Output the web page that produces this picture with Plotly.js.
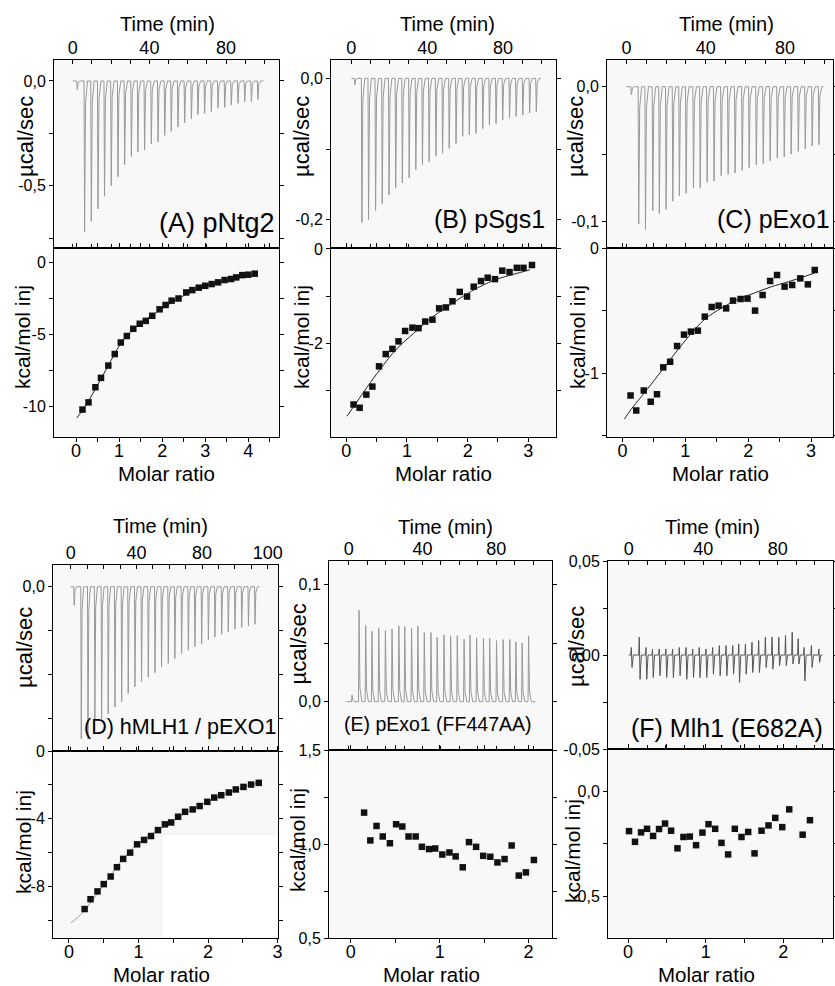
<!DOCTYPE html>
<html><head><meta charset="utf-8">
<script src="https://cdn.plot.ly/plotly-3.0.1.min.js"></script>
<style>html,body{margin:0;padding:0;background:#fff;}#chart{width:835px;height:986px;}</style>
</head><body><div id="chart"></div>
<script>
// ---------------- DATA ----------------
// Raw thermograms: injection times (min) and peak heights (µcal/sec)
const timeA = [2.1,5.9,9.4,12.9,16.3,19.8,23.3,26.8,30.3,33.7,37.2,40.7,44.2,47.7,51.1,54.6,58.1,61.6,65.0,68.5,72.0,75.5,79.0,82.4,85.9,89.4,92.9,96.3];
const peakA = [-0.043,-0.72,-0.67,-0.61,-0.55,-0.5,-0.457,-0.40,-0.36,-0.34,-0.33,-0.30,-0.29,-0.26,-0.24,-0.22,-0.20,-0.18,-0.16,-0.155,-0.146,-0.13,-0.126,-0.115,-0.107,-0.099,-0.099,-0.088];
const baseA = [0, 99.5];

const timeB = [1.6,5.3,8.8,12.5,16.0,19.6,23.1,26.6,30.2,33.7,37.2,40.7,44.3,47.8,51.3,54.9,58.4,61.9,65.4,69.0,72.5,76.0,79.5,83.1,86.6,90.1,93.7,97.2];
const peakB = [-0.009,-0.204,-0.2,-0.187,-0.177,-0.165,-0.155,-0.148,-0.141,-0.129,-0.122,-0.118,-0.11,-0.106,-0.099,-0.092,-0.082,-0.08,-0.078,-0.071,-0.066,-0.064,-0.059,-0.056,-0.054,-0.052,-0.049,-0.047];
const baseB = [0, 100];

const timeC = [2.2,5.9,9.3,13.0,16.3,19.7,23.1,26.4,29.8,33.5,36.9,40.4,43.9,47.5,51.0,54.5,58.1,61.6,65.2,68.7,72.2,75.8,79.3,82.8,86.4,89.9,93.4,96.8];
const peakC = [-0.006,-0.102,-0.106,-0.092,-0.094,-0.091,-0.085,-0.081,-0.079,-0.075,-0.075,-0.071,-0.07,-0.066,-0.065,-0.064,-0.062,-0.06,-0.058,-0.057,-0.055,-0.053,-0.052,-0.05,-0.048,-0.046,-0.044,-0.043];
const baseC = [0, 99.3];

const timeD = [1.8,6.1,10.2,14.4,18.5,22.5,26.6,30.7,34.7,38.8,42.8,46.9,51.0,55.0,59.1,63.1,67.2,71.3,75.3,79.4,83.5,87.5,91.6,95.6,99.7,103.8,107.9,111.9];
const peakD = [-0.042,-0.345,-0.345,-0.303,-0.3,-0.288,-0.273,-0.261,-0.242,-0.227,-0.216,-0.205,-0.195,-0.182,-0.174,-0.163,-0.152,-0.144,-0.136,-0.129,-0.12,-0.114,-0.108,-0.102,-0.096,-0.092,-0.089,-0.085];
const baseD = [0, 115];

const timeE = [1.5,5.3,8.9,12.3,16.0,19.6,23.2,26.9,30.1,33.8,37.2,40.7,44.3,47.7,51.4,55.0,58.6,62.3,65.5,69.1,72.8,76.2,79.9,83.5,87.1,90.4,93.8,97.3];
const peakE = [0.0057,0.078,0.065,0.06,0.063,0.0605,0.062,0.0645,0.064,0.0625,0.0645,0.0588,0.059,0.0548,0.0568,0.0562,0.0562,0.0534,0.0568,0.0545,0.054,0.054,0.052,0.053,0.053,0.051,0.050,0.056];
const baseE = [-1.3, 101.3];

const timeF = [1.1,5.4,9.0,12.5,16.1,19.7,23.3,26.9,30.5,34.1,37.6,41.2,44.8,48.4,52.0,55.6,58.8,62.4,65.9,69.5,73.1,76.7,80.3,83.9,87.5,90.7,93.9,97.8,101.8];
const upF   = [0.004,0.0095,0.004,0.0032,0.0032,0.0032,0.0032,0.004,0.004,0.0032,0.004,0.0032,0.004,0.005,0.005,0.005,0.0059,0.0059,0.0068,0.0077,0.0095,0.0095,0.0095,0.0104,0.0121,0.0086,0.004,0.005,0.0032];
const downF = [-0.0066,-0.0129,-0.0129,-0.012,-0.011,-0.012,-0.012,-0.011,-0.0129,-0.012,-0.012,-0.012,-0.0102,-0.011,-0.011,-0.0102,-0.0146,-0.0102,-0.0093,-0.0093,-0.0066,-0.0075,-0.0057,-0.0057,-0.0048,-0.0048,-0.0138,-0.0066,-0.0039];
const baseF = [0, 104];

// Integrated heats (kcal/mol of injectant) vs molar ratio
const ratioA = [0.15,0.29,0.45,0.58,0.75,0.90,1.04,1.18,1.33,1.48,1.62,1.77,1.94,2.08,2.22,2.38,2.56,2.70,2.85,3.00,3.15,3.30,3.45,3.60,3.72,3.86,4.00,4.15];
const heatA  = [-10.2,-9.7,-8.65,-8.0,-7.15,-6.35,-5.55,-5.1,-4.6,-4.25,-4.05,-3.7,-3.25,-2.95,-2.65,-2.5,-2.08,-1.92,-1.75,-1.62,-1.5,-1.38,-1.22,-1.15,-1.04,-0.88,-0.85,-0.78];
const fitXA = [0.02,0.25,0.5,0.75,1.0,1.25,1.5,1.75,2.0,2.5,3.0,3.5,4.0,4.2];
const fitYA = [-10.78,-9.8,-8.5,-7.15,-5.8,-4.85,-4.2,-3.7,-3.2,-2.3,-1.65,-1.25,-0.95,-0.85];

const ratioB = [0.12,0.22,0.33,0.43,0.54,0.65,0.76,0.86,0.97,1.09,1.19,1.30,1.42,1.53,1.64,1.75,1.87,1.99,2.10,2.22,2.33,2.45,2.57,2.69,2.81,2.92,3.06];
const heatB  = [-3.3,-3.37,-3.09,-2.92,-2.49,-2.23,-2.12,-1.96,-1.74,-1.67,-1.68,-1.54,-1.5,-1.26,-1.24,-1.11,-0.91,-1.01,-0.8,-0.68,-0.61,-0.64,-0.46,-0.49,-0.4,-0.4,-0.34];
const fitXB = [0.01,0.34,0.56,0.83,1.11,1.38,1.66,1.93,2.2,2.48,2.75,3.03];
const fitYB = [-3.55,-2.94,-2.55,-2.12,-1.79,-1.48,-1.23,-1.0,-0.8,-0.64,-0.54,-0.44];

const ratioC = [0.13,0.22,0.34,0.45,0.55,0.65,0.76,0.87,0.98,1.09,1.20,1.31,1.42,1.53,1.65,1.76,1.88,1.99,2.11,2.23,2.35,2.46,2.58,2.70,2.83,2.95,3.06];
const heatC  = [-1.18,-1.30,-1.14,-1.23,-1.17,-0.955,-0.91,-0.784,-0.693,-0.669,-0.661,-0.549,-0.472,-0.461,-0.483,-0.421,-0.408,-0.405,-0.501,-0.376,-0.264,-0.216,-0.309,-0.296,-0.243,-0.291,-0.176];
const fitXC = [0.03,0.14,0.3,0.52,0.78,1.05,1.31,1.58,1.84,2.1,2.37,2.64,3.06];
const fitYC = [-1.37,-1.29,-1.19,-1.05,-0.88,-0.71,-0.57,-0.48,-0.41,-0.36,-0.31,-0.27,-0.2];

const ratioD = [0.225,0.31,0.41,0.50,0.60,0.69,0.78,0.88,0.98,1.08,1.18,1.28,1.38,1.47,1.57,1.67,1.78,1.88,1.99,2.09,2.19,2.30,2.40,2.51,2.62,2.73];
const heatD  = [-9.33,-8.75,-8.29,-7.86,-7.41,-6.86,-6.37,-6.0,-5.51,-5.25,-5.02,-4.67,-4.33,-4.22,-3.88,-3.59,-3.45,-3.25,-3.0,-2.75,-2.61,-2.45,-2.27,-2.12,-1.98,-1.88];
const fitXD = [0.03,0.12,0.225,0.5,0.75,1.0,1.25,1.5,1.75,2.0,2.25,2.5,2.73];
const fitYD = [-10.13,-9.85,-9.4,-7.9,-6.5,-5.45,-4.75,-4.1,-3.5,-2.97,-2.55,-2.14,-1.88];

const ratioE = [0.15,0.22,0.29,0.36,0.44,0.51,0.58,0.65,0.73,0.80,0.88,0.95,1.03,1.11,1.18,1.26,1.33,1.41,1.49,1.57,1.65,1.73,1.81,1.89,1.97,2.06];
const heatE  = [1.167,1.019,1.096,1.04,1.004,1.105,1.093,1.04,1.04,0.985,0.973,0.976,0.944,0.955,0.934,0.876,1.01,0.985,0.937,0.932,0.902,0.92,0.992,0.832,0.849,0.915];

const ratioF = [0.013,0.09,0.168,0.245,0.323,0.40,0.477,0.555,0.637,0.714,0.796,0.877,0.959,1.037,1.123,1.204,1.29,1.376,1.462,1.548,1.63,1.72,1.81,1.897,1.987,2.077,2.25,2.344];
const heatF  = [-0.191,-0.242,-0.197,-0.18,-0.214,-0.181,-0.155,-0.189,-0.273,-0.219,-0.217,-0.258,-0.198,-0.158,-0.18,-0.247,-0.302,-0.18,-0.219,-0.195,-0.297,-0.189,-0.164,-0.128,-0.172,-0.0875,-0.208,-0.139];

// Tick values / labels
const timeTicksStd = [0,10,20,30,40,50,60,70,80,90,100,110];
const timeTextStd  = ['0','','','','40','','','','80','','',''];
const timeTicksD   = [0,10,20,30,40,50,60,70,80,90,100,110,120];
const timeTextD    = ['0','','','','40','','','','80','','','','100'];
const molarTicks   = [0,0.5,1,1.5,2,2.5,3,3.5,4,4.5];
const molarText    = ['0','','1','','2','','3','','4',''];

const rawTickA = [0,-0.25,-0.5,-0.75],  rawTextA = ['0,0','','-0,5',''];
const rawTickB = [0,-0.1,-0.2],         rawTextB = ['0,0','','-0,2'];
const rawTickC = [0,-0.05,-0.1],        rawTextC = ['0,0','','-0,1'];
const rawTickD = [0,-0.1,-0.2,-0.3],    rawTextD = ['0,0','','',''];
const rawTickE = [0,0.05,0.1],          rawTextE = ['0,0','','0,1'];
const rawTickF = [0.05,0.025,0,-0.025,-0.05], rawTextF = ['0,05','','0,00','','-0,05'];

const heatTickA = [0,-2.5,-5,-7.5,-10], heatTextA = ['0','','-5','','-10'];
const heatTickB = [0,-1,-2,-3,-4],      heatTextB = ['0','','-2','','-4'];
const heatTickC = [0,-0.5,-1,-1.5],     heatTextC = ['0','','-1',''];
const heatTickD = [0,-2,-4,-6,-8,-10],  heatTextD = ['0','','-4','','-8',''];
const heatTickE = [1.5,1.25,1.0,0.75,0.5], heatTextE = ['1,5','','1,0','','0,5'];
const heatTickF = [0,-0.25,-0.5],       heatTextF = ['0,0','','-0,5'];

const panelLabels = ['(A) pNtg2','(B) pSgs1','(C) pExo1','(D) hMLH1 / pEXO1','(E) pExo1 (FF447AA)','(F) Mlh1 (E682A)'];

// ---------------- LAYOUT / STYLE ----------------
const W = 835, H = 986;
const FONT = '"Liberation Sans", Arial, Helvetica, sans-serif';

function thermo(times, peaks, base) {
  const x = [base[0]], y = [0];
  for (let i = 0; i < times.length; i++) {
    const t = times[i], p = peaks[i];
    x.push(t, t + 0.3, t + 0.8, t + 1.8);
    y.push(0, p, p * 0.15, 0);
  }
  x.push(base[1]); y.push(0);
  return {x, y};
}
function thermoF(times, ups, downs, base) {
  const x = [base[0]], y = [0];
  for (let i = 0; i < times.length; i++) {
    const t = times[i];
    x.push(t, t + 0.3, t + 0.7, t + 1.4);
    y.push(0, ups[i], downs[i], 0);
  }
  x.push(base[1]); y.push(0);
  return {x, y};
}

const panels = [
  {box:[54,279,60,248,437], tr:[-9.75,107.6], yr:[-0.797,0.1], mr:[-0.511,4.713], hr:[-12.1,1.0],
   raw:thermo(timeA,peakA,baseA), tt:[timeTicksStd,timeTextStd], rt:[rawTickA,rawTextA], ht:[heatTickA,heatTextA],
   pts:[ratioA,heatA], fit:[fitXA,fitYA], fitColor:'#222',
   tTitle:[167.5,24], uTitle:[26,137], kTitle:[23,337], mTitle:[166.5,473], lab:[277,223,27]},
  {box:[331,556,60,248,437], tr:[-10.7,107.9], yr:[-0.240,0.026], mr:[-0.252,3.456], hr:[-3.99,0.021],
   raw:thermo(timeB,peakB,baseB), tt:[timeTicksStd,timeTextStd], rt:[rawTickB,rawTextB], ht:[heatTickB,heatTextB],
   pts:[ratioB,heatB], fit:[fitXB,fitYB], fitColor:'#222',
   tTitle:[447.5,24], uTitle:[302,137], kTitle:[302,337], mTitle:[443,473], lab:[547,219,25]},
  {box:[607,833,60,248,437], tr:[-9.8,104.2], yr:[-0.1197,0.0198], mr:[-0.245,3.35], hr:[-1.512,0],
   raw:thermo(timeC,peakC,baseC), tt:[timeTicksStd,timeTextStd], rt:[rawTickC,rawTextC], ht:[heatTickC,heatTextC],
   pts:[ratioC,heatC], fit:[fitXC,fitYC], fitColor:'#222',
   tTitle:[726.5,24], uTitle:[576,137], kTitle:[578,337], mTitle:[720,473], lab:[832,219,25]},
  {box:[53,278,565,751,938], tr:[-10.8,126.2], yr:[-0.3727,0.0493], mr:[-0.23,3.007], hr:[-11.04,0],
   raw:thermo(timeD,peakD,baseD), tt:[timeTicksD,timeTextD], rt:[rawTickD,rawTextD], ht:[heatTickD,heatTextD],
   pts:[ratioD,heatD], fit:[fitXD,fitYD], fitColor:'#999',
   tTitle:[160,526], uTitle:[24,648], kTitle:[23,842], mTitle:[161,974], lab:[278,727,21.5]},
  {box:[329,552,561,750,938], tr:[-10.7,110.3], yr:[-0.0412,0.1199], mr:[-0.245,2.264], hr:[0.5,1.5],
   raw:thermo(timeE,peakE,baseE), tt:[timeTicksStd,timeTextStd], rt:[rawTickE,rawTextE], ht:[heatTickE,heatTextE],
   pts:[ratioE,heatE], fit:null,
   tTitle:[445,527], uTitle:[297.5,644], kTitle:[297,840], mTitle:[431,974], lab:[533,724,19.5]},
  {box:[608,833,561,749,938], tr:[-11.1,109.7], yr:[-0.05,0.05], mr:[-0.258,2.641], hr:[-0.7,0.2],
   raw:thermoF(timeF,upF,downF,baseF), rawColor:'#555', tt:[timeTicksStd,timeTextStd], rt:[rawTickF,rawTextF], ht:[heatTickF,heatTextF],
   pts:[ratioF,heatF], fit:null,
   tTitle:[712.5,527], uTitle:[576,647], kTitle:[572,851], mTitle:[706,974], lab:[825,728,25]}
];

const traces = [];
const layout = {
  width: W, height: H, margin:{l:0,r:0,t:0,b:0,pad:0},
  paper_bgcolor:'#ffffff', plot_bgcolor:'#f8f8f8', showlegend:false,
  font:{family:FONT, color:'#000'}, annotations:[], shapes:[]
};
const baseAxis = {showline:true, linecolor:'#000', linewidth:1, mirror:'ticks', showgrid:false,
  zeroline:false, ticklen:4, tickwidth:1, tickcolor:'#000', fixedrange:true, tickmode:'array', layer:'above traces'};

function px2x(p){ return p / W; }
function px2y(p){ return 1 - p / H; }

panels.forEach((p, i) => {
  const nT = 2*i + 1, nB = 2*i + 2;
  const xT = 'x' + (nT === 1 ? '' : nT), yT = 'y' + (nT === 1 ? '' : nT);
  const xB = 'x' + nB, yB = 'y' + nB;
  const [L, R, T, M, B] = p.box;
  const xdom = [px2x(L), px2x(R)];
  layout['xaxis' + (nT === 1 ? '' : nT)] = Object.assign({}, baseAxis, {
    domain: xdom, anchor: yT, side:'top', ticks:'inside', range: p.tr, ticklabelstandoff:-2,
    tickvals: p.tt[0], ticktext: p.tt[1], tickfont:{family:FONT, size:18, color:'#000'}
  });
  layout['yaxis' + (nT === 1 ? '' : nT)] = Object.assign({}, baseAxis, {
    domain: [px2y(M), px2y(T)], anchor: xT, ticks:'outside', range: p.yr,
    tickvals: p.rt[0], ticktext: p.rt[1], tickfont:{family:FONT, size:16, color:'#000'}
  });
  layout['xaxis' + nB] = Object.assign({}, baseAxis, {
    domain: xdom, anchor: yB, side:'bottom', ticks:'outside', range: p.mr, ticklabelstandoff:-7,
    tickvals: molarTicks, ticktext: molarText, tickfont:{family:FONT, size:18, color:'#000'}
  });
  layout['yaxis' + nB] = Object.assign({}, baseAxis, {
    domain: [px2y(B), px2y(M)], anchor: xB, ticks:'outside', range: p.hr,
    tickvals: p.ht[0], ticktext: p.ht[1], tickfont:{family:FONT, size:16, color:'#000'}
  });

  traces.push({type:'scatter', mode:'lines', x:p.raw.x, y:p.raw.y, xaxis:xT, yaxis:yT,
    line:{color: p.rawColor || '#999', width: 1}, hoverinfo:'skip'});
  if (p.fit) {
    traces.push({type:'scatter', mode:'lines', x:p.fit[0], y:p.fit[1], xaxis:xB, yaxis:yB,
      line:{color:p.fitColor, width:1, shape:'spline'}, hoverinfo:'skip'});
  }
  traces.push({type:'scatter', mode:'markers', x:p.pts[0], y:p.pts[1], xaxis:xB, yaxis:yB,
    marker:{symbol:'square', size:6.5, color:'#111', line:{width:0}}, hoverinfo:'skip'});

  const ann = (txt, xy, size, angle) => layout.annotations.push({
    text: txt, xref:'paper', yref:'paper', x: px2x(xy[0]), y: px2y(xy[1]),
    xanchor:'center', yanchor:'middle', showarrow:false, textangle: angle || 0,
    font:{family:FONT, size:size, color:'#000'}
  });
  ann('Time (min)', p.tTitle, 20);
  ann('µcal/sec', p.uTitle, 22, -90);
  ann('kcal/mol inj', p.kTitle, 21, -90);
  ann('Molar ratio', p.mTitle, 20.5);
  layout.annotations.push({
    text: panelLabels[i], xref:'paper', yref:'paper', x: px2x(p.lab[0]), y: px2y(p.lab[1]),
    xanchor:'right', yanchor:'middle', showarrow:false,
    font:{family:FONT, size:p.lab[2], color:'#000'}
  });
});

// light image patch seen in panel D's lower plot
layout.shapes.push({type:'rect', xref:'x8', yref:'y8', x0:1.33, x1:3.007, y0:-11.04, y1:-4.9,
  fillcolor:'#ffffff', line:{color:'#ececec', width:1}, layer:'below'});

Plotly.newPlot('chart', traces, layout, {staticPlot:true, displayModeBar:false});
</script>
</body></html>
